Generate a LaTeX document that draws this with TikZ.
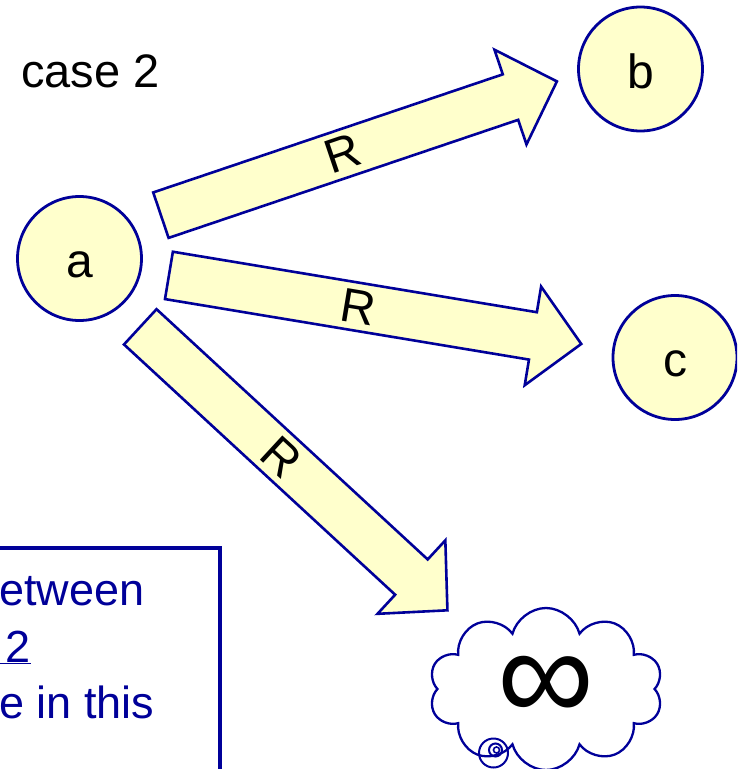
\documentclass[tikz,border=0pt]{standalone}
\usepackage{fontspec}
\setmainfont{Liberation Sans}
\usetikzlibrary{calc, shapes.symbols}

\definecolor{slideblue}{RGB}{0,0,153}
\definecolor{slideyellow}{RGB}{255,255,204}

\tikzset{
  state/.style={circle, draw=slideblue, fill=slideyellow, line width=2.8pt,
                minimum size=124pt, inner sep=0pt, text height=38pt, text depth=0pt,
                font=\fontsize{48}{56}\selectfont},
  blockarrow/.style={draw=slideblue, fill=slideyellow, line width=2.6pt, line join=miter},
  arrowlabel/.style={font=\fontsize{48}{56}\selectfont, sloped, pos=0.46, inner sep=0pt},
  notetext/.style={text=slideblue, font=\fontsize{45}{56}\selectfont, anchor=base west, inner sep=0pt},
}

% block arrow: from, to, side shift, label
\newcommand{\relarrow}[4]{%
  \path ($(#1)!91pt!(#2)$) coordinate (t0)
        ($(#1)!509pt!(#2)$) coordinate (p0);
  \path ($(t0)!#3!90:(#2)$) coordinate (tl)
        ($(p0)!#3!-90:(#1)$) coordinate (tp);
  \coordinate (hb) at ($(tp)!49pt!(tl)$);
  \filldraw[blockarrow] ($(tl)!24pt!90:(tp)$) -- ($(hb)!24pt!-90:(tl)$)
    -- ($(hb)!50pt!-90:(tl)$) -- (tp) -- ($(hb)!50pt!90:(tl)$)
    -- ($(hb)!24pt!90:(tl)$) -- ($(tl)!24pt!-90:(tp)$) -- cycle;
  \path (tl) -- node[arrowlabel] {#4} (tp);
}

\begin{document}
\begin{tikzpicture}[x=1pt, y=-1pt]
  \clip (0,0) rectangle (737,769);
  % Title
  \node[anchor=base west, inner sep=0pt, font=\fontsize{47}{56}\selectfont] (title) at (21,87) {case 2};
  % States
  \node[state] (a) at (79.5,258.5) {a};
  \node[state] (b) at (640.5,69) {b};
  \node[state] (c) at (675,357.5) {c};
  % Infinity cloud
  \node[cloud, draw=slideblue, line width=2.3pt, cloud puffs=10, aspect=1.5,
        minimum width=234pt, minimum height=162pt, inner sep=0pt,
        font=\fontsize{136}{136}\selectfont] (inf) at (546,689) {∞};
  \draw[slideblue, line width=2pt] (493.5,753) circle (14.5);
  \draw[slideblue, line width=2pt] (495.5,750) circle (6.5);
  \draw[slideblue, line width=1.6pt] (496.5,750) circle (3);
  % Relations
  \relarrow{a}{b}{15pt}{R}
  \relarrow{a}{c}{-2pt}{R}
  \relarrow{a}{inf}{-9pt}{R}
  % Note box
  \draw[slideblue, line width=3.5pt] (-10,548) rectangle (220,800);
  \node[notetext] (n1) at (-1,605) {etween};
  \node[notetext] (n2) at (-7,662) {\underline{\ 2}};
  \node[notetext] (n3) at (-1,718) {e in this};
\end{tikzpicture}
\end{document}
